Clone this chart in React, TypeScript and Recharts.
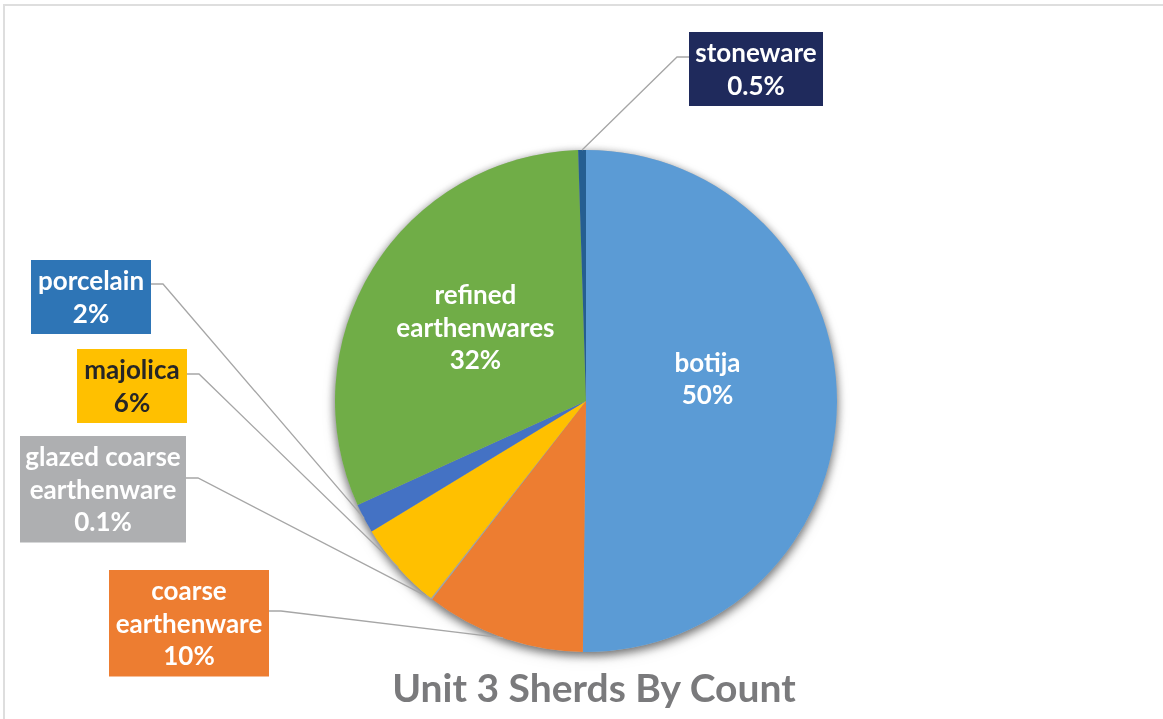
import { PieChart, Pie, Cell } from "recharts";

const CATEGORIES = [
  "botija",
  "coarse earthenware",
  "glazed coarse earthenware",
  "majolica",
  "porcelain",
  "refined earthenwares",
  "stoneware",
];
// share of sherds (%), clockwise from 12 o'clock
const SHARES = [50.2, 10.3, 0.1, 5.7, 1.9, 31.3, 0.5];
const PCT_LABELS = ["50%", "10%", "0.1%", "6%", "2%", "32%", "0.5%"];
const NAME_LINES = [
  ["botija"],
  ["coarse", "earthenware"],
  ["glazed coarse", "earthenware"],
  ["majolica"],
  ["porcelain"],
  ["refined", "earthenwares"],
  ["stoneware"],
];

const SLICE_COLORS = ["#5B9BD5", "#ED7D31", "#A5A5A5", "#FFC000", "#4472C4", "#70AD47", "#255E91"];
const BOX_COLORS = ["", "#ED7D31", "#AEAFB1", "#FFC000", "#2E75B6", "", "#1F2A5C"];
const TEXT_COLORS = ["#fff", "#fff", "#fff", "#262626", "#fff", "#fff", "#fff"];

// where each data label sits (inside labels: offset from the slice's mid point,
// outside labels: callout box + where the leader line leaves it)
type Place =
  | { inside: true; radius: number; dx: number; dy: number }
  | { inside: false; x: number; y: number; w: number; side: "left" | "right"; anchorDy: number };

const PLACES: Place[] = [
  { inside: true, radius: 0.5, dx: -4, dy: -23 },
  { inside: false, x: 109, y: 570, w: 160, side: "right", anchorDy: 41 },
  { inside: false, x: 20, y: 436, w: 166, side: "right", anchorDy: 42 },
  { inside: false, x: 77, y: 349, w: 110, side: "right", anchorDy: 25 },
  { inside: false, x: 31, y: 260, w: 120, side: "right", anchorDy: 24 },
  { inside: true, radius: 0.5, dx: -4, dy: -7 },
  { inside: false, x: 689, y: 32, w: 134, side: "left", anchorDy: 25 },
];

const RADIAN = Math.PI / 180;
const LINE_H = 32.5;
const FONT = "Lato, 'Open Sans', sans-serif";

const data = CATEGORIES.map((name, i) => ({ name, value: SHARES[i] }));

const renderLabel = (props: any) => {
  const { cx, cy, midAngle, outerRadius, index } = props;
  const lines = [...NAME_LINES[index], PCT_LABELS[index]];
  const place = PLACES[index];
  const cos = Math.cos(-midAngle * RADIAN);
  const sin = Math.sin(-midAngle * RADIAN);
  const textProps = {
    fill: TEXT_COLORS[index],
    fontFamily: FONT,
    fontWeight: 700,
    fontSize: 26,
    textAnchor: "middle" as const,
  };

  if (place.inside) {
    const r = outerRadius * place.radius;
    const x = cx + r * cos + place.dx;
    const y = cy + r * sin + place.dy;
    return (
      <text key={`lbl-${index}`} {...textProps}>
        {lines.map((l, i) => (
          <tspan key={i} x={x} y={y + (i - (lines.length - 1) / 2) * LINE_H + 9}>
            {l}
          </tspan>
        ))}
      </text>
    );
  }

  const h = lines.length * LINE_H + 9;
  const ex = cx + outerRadius * cos;
  const ey = cy + outerRadius * sin;
  const ax = place.side === "right" ? place.x + place.w : place.x;
  const ay = place.y + place.anchorDy;
  const bx = place.side === "right" ? ax + 12 : ax - 12;
  return (
    <g key={`lbl-${index}`}>
      <polyline
        points={`${ax},${ay} ${bx},${ay} ${ex},${ey}`}
        fill="none"
        stroke="#A6A6A6"
        strokeWidth={1.3}
      />
      <rect x={place.x} y={place.y} width={place.w} height={h} fill={BOX_COLORS[index]} />
      <text {...textProps}>
        {lines.map((l, i) => (
          <tspan key={i} x={place.x + place.w / 2} y={place.y + 30 + i * LINE_H}>
            {l}
          </tspan>
        ))}
      </text>
    </g>
  );
};

export default function App() {
  return (
    <div
      style={{
        position: "absolute",
        left: 0,
        top: 0,
        width: 1163,
        height: 719,
        overflow: "hidden",
        background: "#fff",
      }}
    >
      <style>{`.pie-shadow { filter: drop-shadow(0px 3px 5px rgba(0,0,0,0.35)); }`}</style>
      <div
        style={{
          position: "absolute",
          left: 3,
          top: 4,
          width: 1170,
          height: 730,
          border: "2px solid #DEDEDE",
        }}
      />
      <div style={{ position: "absolute", left: 0, top: 0 }}>
        <PieChart width={1163} height={719} margin={{ top: 0, right: 0, bottom: 0, left: 0 }}>
          <Pie
            data={data}
            dataKey="value"
            nameKey="name"
            cx={586}
            cy={401}
            outerRadius={251}
            startAngle={90}
            endAngle={-270}
            fill="#bbb"
            stroke="none"
            className="pie-shadow"
            isAnimationActive={false}
          />
          <Pie
            data={data}
            dataKey="value"
            nameKey="name"
            cx={586}
            cy={401}
            outerRadius={251}
            startAngle={90}
            endAngle={-270}
            stroke="none"
            labelLine={false}
            label={renderLabel}
            isAnimationActive={false}
          >
            {data.map((_d, i) => (
              <Cell key={`cell-${i}`} fill={SLICE_COLORS[i]} />
            ))}
          </Pie>
        </PieChart>
      </div>
      <svg
        width={1163}
        height={719}
        style={{ position: "absolute", left: 0, top: 0, pointerEvents: "none" }}
      >
        <text
          x={594}
          y={702}
          textAnchor="middle"
          fill="#7A7A7C"
          fontFamily={FONT}
          fontWeight={700}
          fontSize={39}
        >
          Unit 3 Sherds By Count
        </text>
      </svg>
    </div>
  );
}
